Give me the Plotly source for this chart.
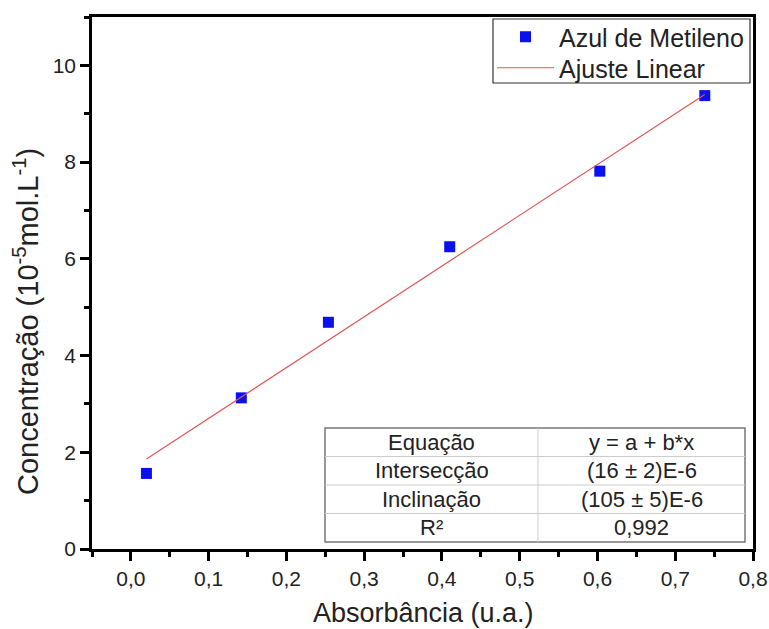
import plotly.graph_objects as go

absorb = [0.020, 0.142, 0.254, 0.410, 0.603, 0.738]
conc = [1.5625, 3.125, 4.6875, 6.25, 7.8125, 9.375]
fit_x = [0.020, 0.738]
fit_y = [1.86, 9.40]
table_rows = [["Equação", "y = a + b*x"],
              ["Intersecção", "(16 ± 2)E-6"],
              ["Inclinação", "(105 ± 5)E-6"],
              ["R²", "0,992"]]

FONT = "Liberation Sans, Arial, sans-serif"
W, H = 769, 629
L, R, T, B = 92, 16, 17, 80
PW, PH = W - L - R, H - T - B


def px(x):
    return (x - L) / PW


def py(y):
    return (H - B - y) / PH


fig = go.Figure()
fig.add_trace(go.Scatter(x=absorb, y=conc, mode="markers", name="Azul de Metileno",
                         marker=dict(symbol="square", size=11, color="#0a10f0"),
                         legend="legend", showlegend=True))
fig.add_trace(go.Scatter(x=fit_x, y=fit_y, mode="lines", name="Ajuste Linear",
                         line=dict(color="#e05555", width=1.2), legend="legend2", showlegend=True))

axis_common = dict(showline=True, linecolor="black", linewidth=2.5, mirror=True,
                   ticks="outside", ticklen=9, tickwidth=2.5, tickcolor="black",
                   showgrid=False, zeroline=False, automargin=False,
                   tickfont=dict(size=21, color="#222", family=FONT))
fig.update_xaxes(range=[-0.05, 0.8], tick0=0, dtick=0.1, tickformat=".1f",
                 minor=dict(ticks="outside", ticklen=5, tickwidth=2.5, dtick=0.05, tick0=0, tickcolor="black"),
                 **axis_common)
fig.update_yaxes(range=[0, 11], tick0=0, dtick=2,
                 minor=dict(ticks="outside", ticklen=5, tickwidth=2.5, dtick=1, tick0=0, tickcolor="black"),
                 **axis_common)

# axis titles
fig.add_annotation(xref="paper", yref="paper", x=px(423), y=py(613), text="Absorbância (u.a.)",
                   showarrow=False, xanchor="center", yanchor="middle",
                   font=dict(size=27, color="#222", family=FONT))
fig.add_annotation(xref="paper", yref="paper", x=px(26), y=py(322),
                   text="Concentração (10<sup>-5</sup>mol.L<sup>-1</sup>)", textangle=-90,
                   showarrow=False, xanchor="center", yanchor="middle",
                   font=dict(size=29, color="#222", family=FONT))

# legend frame
fig.add_shape(type="rect", xref="paper", yref="paper", x0=px(493), x1=px(750), y0=py(83), y1=py(19),
              line=dict(color="#333", width=1.2), fillcolor="white", layer="above")

# table
x0, x1, xm = px(325), px(745), px(538)
ytop, ybot = py(428), py(542)
rh = (ytop - ybot) / len(table_rows)
fig.add_shape(type="rect", xref="paper", yref="paper", x0=x0, x1=x1, y0=ybot, y1=ytop,
              line=dict(color="#777", width=1.5), fillcolor="white", layer="above")
fig.add_shape(type="line", xref="paper", yref="paper", x0=xm, x1=xm, y0=ybot, y1=ytop,
              line=dict(color="#ccc", width=1), layer="above")
for i, (a, b) in enumerate(table_rows):
    yc = ytop - (i + 0.5) * rh
    if i > 0:
        fig.add_shape(type="line", xref="paper", yref="paper", x0=x0, x1=x1,
                      y0=ytop - i * rh, y1=ytop - i * rh, line=dict(color="#ccc", width=1), layer="above")
    fig.add_annotation(xref="paper", yref="paper", x=(x0 + xm) / 2, y=yc, text=a, showarrow=False,
                       xanchor="center", yanchor="middle",
                       font=dict(size=22, color="#222", family=FONT))
    fig.add_annotation(xref="paper", yref="paper", x=(xm + x1) / 2, y=yc, text=b, showarrow=False,
                       xanchor="center", yanchor="middle",
                       font=dict(size=22, color="#222", family=FONT))

leg_common = dict(xanchor="left", yanchor="middle", borderwidth=0, bgcolor="rgba(0,0,0,0)",
                  font=dict(size=25, color="#222", family=FONT), itemwidth=57, visible=True)
fig.update_layout(width=W, height=H, margin=dict(l=L, r=R, t=T, b=B), showlegend=True,
                  paper_bgcolor="white", plot_bgcolor="white", separators=",.",
                  legend=dict(x=px(492), y=py(37), **leg_common),
                  legend2=dict(x=px(492), y=py(68), **leg_common))
fig.write_html("out.html")
